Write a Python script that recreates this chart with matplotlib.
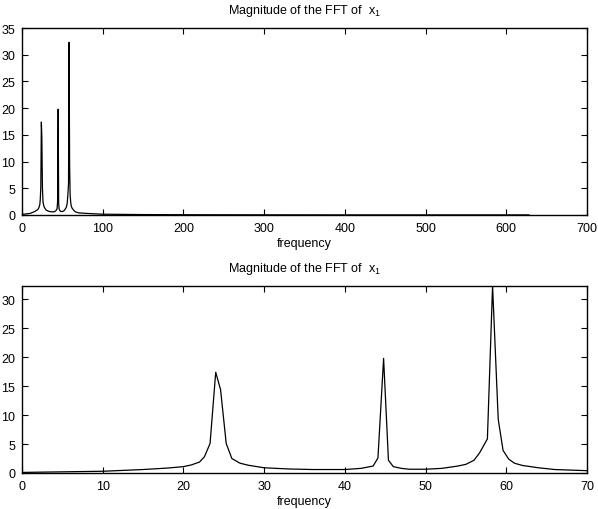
import matplotlib
matplotlib.use("Agg")
import matplotlib.pyplot as plt

plt.rcParams['font.family'] = ['Liberation Sans', 'DejaVu Sans']
plt.rcParams['mathtext.fontset'] = 'custom'
plt.rcParams['mathtext.rm'] = 'Liberation Sans'
plt.rcParams['mathtext.it'] = 'Liberation Sans'

freq = [0, 5, 10, 15, 18, 20, 21, 22, 22.6, 23.3, 24.0, 24.6, 25.3, 26, 27, 28, 30, 33,
        36, 40, 42, 43.5, 44.1, 44.8, 45.4, 46, 47, 48, 50, 52, 54, 55, 56, 56.7, 57.66,
        58.3, 59.0, 59.6, 60.3, 61, 62, 64, 66, 68, 70, 80, 100, 150, 200, 300, 400, 500, 628]
mag = [0.1, 0.2, 0.3, 0.6, 0.85, 1.1, 1.4, 1.9, 2.8, 5.1, 17.4, 14.4, 5.1, 2.5, 1.7, 1.35, 0.9, 0.7,
       0.6, 0.6, 0.8, 1.2, 2.6, 19.8, 2.2, 1.1, 0.8, 0.65, 0.65, 0.8, 1.2, 1.5, 2.2, 3.5, 5.9,
       32.3, 9.3, 3.9, 2.4, 1.7, 1.3, 0.9, 0.6, 0.5, 0.4, 0.3, 0.15, 0.08, 0.05, 0.03, 0.02, 0.02, 0.02]

title = "Magnitude of the FFT of  x$_1$"
W, H = 598, 510
fig = plt.figure(figsize=(W/100, H/100), dpi=100)

def px_axes(left, top, right, bottom):
    return fig.add_axes([left/W, 1 - bottom/H, (right-left)/W, (bottom-top)/H])

ax1 = px_axes(22, 29, 587, 216)
ax2 = px_axes(22, 287, 587, 474)

for ax, xlim, ylim, xt, yt in [
    (ax1, (0, 700), (0, 35), range(0, 701, 100), range(0, 36, 5)),
    (ax2, (0, 70), (0, 32.3), range(0, 71, 10), range(0, 31, 5)),
]:
    ax.plot(freq, mag, color='black', lw=0.9)
    ax.set_xlim(*xlim)
    ax.set_ylim(*ylim)
    ax.set_xticks(list(xt))
    ax.set_yticks(list(yt))
    ax.tick_params(direction='in', top=True, right=True, length=4, width=0.8,
                   labelsize=9, pad=5)
    for s in ax.spines.values():
        s.set_linewidth(1.0)
    ax.set_xlabel('frequency', fontsize=9, labelpad=2)
    ax.set_title(title, fontsize=9, pad=11)

fig.savefig('out.png', dpi=100)
